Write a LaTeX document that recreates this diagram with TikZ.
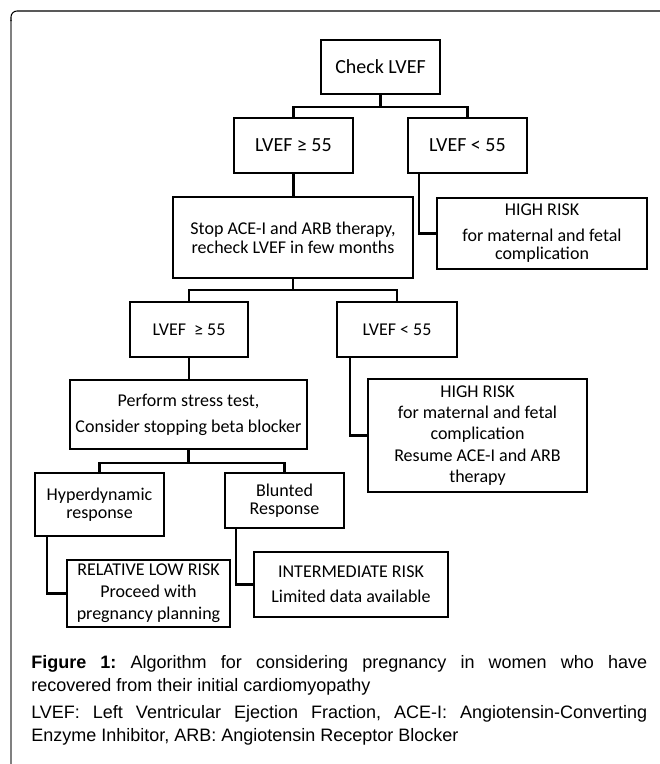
\documentclass[tikz,border=0pt]{standalone}
\usepackage{fontspec}
\setmainfont{Carlito}
\newfontfamily\capfont{Liberation Sans}
\usepackage{tikz}
\frenchspacing

\begin{document}
\begin{tikzpicture}[x=0.75pt, y=-0.75pt,
    box/.style={shape=rectangle, draw, line width=1.6pt, inner sep=0pt, align=center,
      font=\fontsize{13.5}{13.5}\selectfont},
    bigbox/.style={box, font=\fontsize{15}{15}\selectfont},
    link/.style={line width=1.6pt},
    note/.style={anchor=north west, inner sep=0pt, text width=462pt, align=justify,
      font=\capfont\fontsize{13.5}{17.25}\selectfont}]
    \useasboundingbox (0,0) rectangle (660,764);

    % frame
    \draw[gray, line width=1.2pt] (11,764) -- (11,20);
    \draw[line width=0.8pt, rounded corners=4.5pt] (11,21) -- (11,11) -- (660,11);

    \node[bigbox, minimum width=89.25pt, minimum height=40.5pt] (check) at (380.5,67) {Check LVEF};
    \node[bigbox, minimum width=89.25pt, minimum height=41.25pt] (geA) at (293.5,145.5) {LVEF ≥ 55};
    \node[bigbox, minimum width=89.25pt, minimum height=41.25pt] (ltA) at (467.5,145.5) {LVEF < 55};
    \node[box, minimum width=180pt, minimum height=60.75pt] (stop) at (293,237.5)
      {Stop ACE-I and ARB therapy,\\[0.75pt]recheck LVEF in few months};
    \node[box, minimum width=157.5pt, minimum height=53.25pt] (highA) at (542,233.5)
      {HIGH RISK\\[6pt]for maternal and fetal\\complication};

    \node[box, minimum width=88.5pt, minimum height=41.25pt] (geB) at (189,329.5) {LVEF\ \ ≥ 55};
    \node[box, minimum width=90pt, minimum height=41.25pt] (ltB) at (397,329.5) {LVEF < 55};
    \node[box, minimum width=177.75pt, minimum height=51.75pt] (stress) at (188.5,414.5)
      {Perform stress test,\\[6pt]Consider stopping beta blocker};
    \node[box, minimum width=164.25pt, minimum height=84.75pt, font=\fontsize{13.5}{16}\selectfont] (highB) at (477.5,435.5)
      {HIGH RISK\\for maternal and fetal\\complication\\Resume ACE-I and ARB\\therapy};

    \node[box, minimum width=96.75pt, minimum height=47.25pt] (hyper) at (99.5,504.5) {Hyperdynamic\\response};
    \node[box, minimum width=89.25pt, minimum height=41.25pt] (blunt) at (284.5,500.5) {Blunted\\Response};
    \node[box, minimum width=122.25pt, minimum height=50.25pt] (lowrisk) at (148.5,593.5)
      {RELATIVE LOW RISK\\[3pt]Proceed with\\[3pt]pregnancy planning};
    \node[box, minimum width=145.5pt, minimum height=48.75pt] (midrisk) at (351,584.5)
      {INTERMEDIATE RISK\\[5.25pt]Limited data available};

    % connectors
    \draw[link] (check.south) -- ++(0,12) -| (geA.north);
    \draw[link] (check.south) -- ++(0,12) -| (ltA.north);
    \draw[link] (geA.south) -- (geA.south |- stop.north);
    \draw[link] ([xshift=9pt]ltA.south west) |- (highA.west);
    \draw[link] (stop.south) -- ++(0,11) -| (geB.north);
    \draw[link] (stop.south) -- ++(0,11) -| (ltB.north);
    \draw[link] (geB.south) -- (geB.south |- stress.north);
    \draw[link] ([xshift=10.5pt]ltB.south west) |- (highB.west);
    \draw[link] (stress.south) -- ++(0,13) -| (hyper.north);
    \draw[link] (stress.south) -- ++(0,13) -| (blunt.north);
    \draw[link] ([xshift=9.75pt]hyper.south west) |- (lowrisk.west);
    \draw[link] ([xshift=9pt]blunt.south west) |- (midrisk.west);

    % caption
    \node[note] (caption) at (31,655)
      {\textbf{Figure 1:} Algorithm for considering pregnancy in women who have\linebreak
       recovered from their initial cardiomyopathy};
    \node[note] (abbrev) at (31,705)
      {LVEF: Left Ventricular Ejection Fraction, ACE-I: Angiotensin-Converting\linebreak
       Enzyme Inhibitor, ARB: Angiotensin Receptor Blocker};
\end{tikzpicture}
\end{document}
